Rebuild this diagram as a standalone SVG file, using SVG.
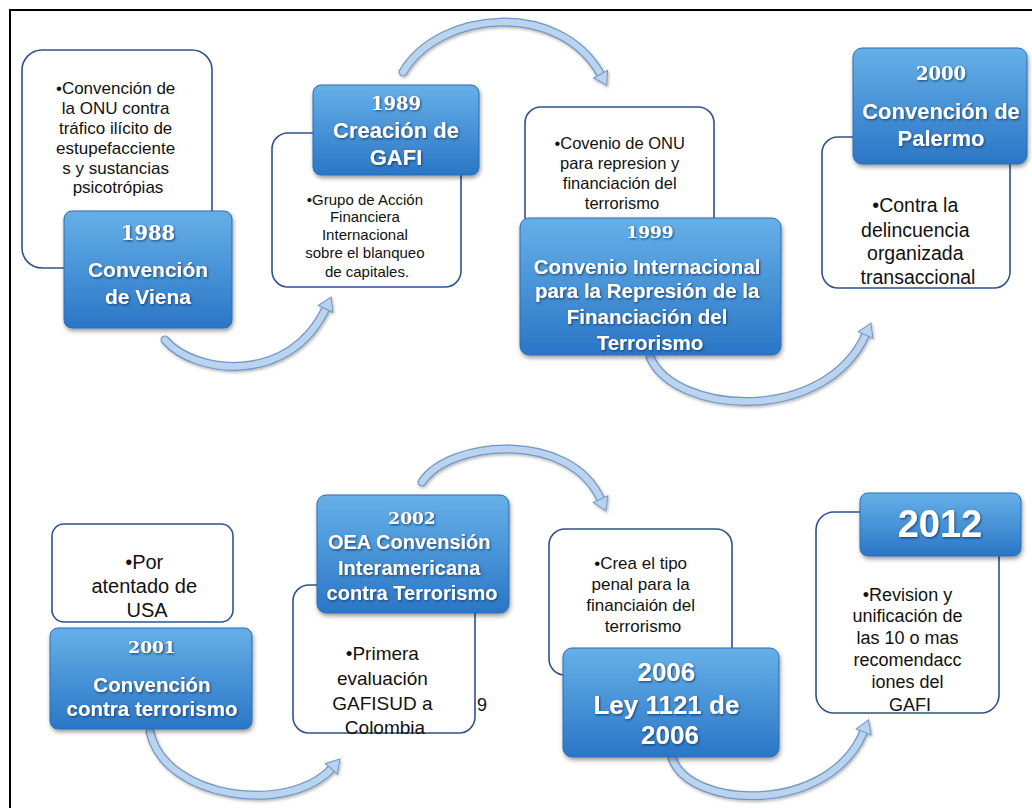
<svg xmlns="http://www.w3.org/2000/svg" width="1032" height="808" viewBox="0 0 1032 808">
<defs>
<linearGradient id="gBlue" x1="0" y1="0" x2="0" y2="1">
<stop offset="0" stop-color="#66b0e8"/>
<stop offset="1" stop-color="#2a76c6"/>
</linearGradient>
<filter id="boxShadow" x="-10%" y="-10%" width="125%" height="130%">
<feDropShadow dx="1" dy="2.5" stdDeviation="2" flood-color="#000" flood-opacity="0.4"/>
</filter>
<filter id="txtShadow" x="-10%" y="-20%" width="120%" height="150%">
<feDropShadow dx="1" dy="1.2" stdDeviation="0.8" flood-color="#123a66" flood-opacity="0.9"/>
</filter>
<filter id="arrowShadow" x="-10%" y="-10%" width="125%" height="130%">
<feDropShadow dx="1" dy="1.5" stdDeviation="1.5" flood-color="#000" flood-opacity="0.3"/>
</filter>
<marker id="head" markerUnits="userSpaceOnUse" markerWidth="20" markerHeight="20" refX="1" refY="8" orient="auto" overflow="visible">
<path d="M0,0 L13,8 L0,16 Z" fill="#b9d2ef" stroke="#7396c2" stroke-width="1"/>
</marker>
<style>
.wbox{fill:#ffffff;stroke:#2f528f;stroke-width:1.6}
.bbox{fill:url(#gBlue);stroke:#2d6db5;stroke-width:1;filter:url(#boxShadow)}
.wt{font-family:"Liberation Sans",Arial,sans-serif;fill:#111;text-anchor:middle}
.bt{font-family:"Liberation Sans",Arial,sans-serif;font-weight:bold;fill:#fff;text-anchor:middle;filter:url(#txtShadow)}
.yr{font-family:"DejaVu Serif","Liberation Serif",serif;font-weight:bold;fill:#fff;text-anchor:middle;filter:url(#txtShadow)}
.aOut{fill:none;stroke:#7396c2;stroke-width:9;stroke-linecap:round}
.aIn{fill:none;stroke:#bad3ef;stroke-width:6.5;stroke-linecap:round}
</style>
</defs>
<rect x="0" y="0" width="1032" height="808" fill="#ffffff"/>
<rect x="10" y="10" width="1040" height="820" fill="none" stroke="#000" stroke-width="2"/>

<g id="connectors" filter="url(#arrowShadow)">
<path class="aOut" d="M165,340 C195,375 290,385 326,308"/>
<path class="aIn" d="M165,340 C195,375 290,385 326,308" marker-end="url(#head)"/>
<path class="aOut" d="M403,72 C440,10 560,0 601,75"/>
<path class="aIn" d="M403,72 C440,10 560,0 601,75" marker-end="url(#head)"/>
<path class="aOut" d="M650,357 C675,415 825,425 866,334"/>
<path class="aIn" d="M650,357 C675,415 825,425 866,334" marker-end="url(#head)"/>
<path class="aOut" d="M150,732 C165,800 290,815 332,768"/>
<path class="aIn" d="M150,732 C165,800 290,815 332,768" marker-end="url(#head)"/>
<path class="aOut" d="M422,482 C450,440 570,430 601,500"/>
<path class="aIn" d="M422,482 C450,440 570,430 601,500" marker-end="url(#head)"/>
<path class="aOut" d="M672,758 C690,810 830,815 864,731"/>
<path class="aIn" d="M672,758 C690,810 830,815 864,731" marker-end="url(#head)"/>
</g>

<g id="n1988">
<rect class="wbox" x="22" y="50" width="190" height="218" rx="20"/>
<text class="wt" font-size="17">
<tspan x="118" y="94">•Convención de</tspan>
<tspan x="118" y="114">la ONU contra</tspan>
<tspan x="118" y="134">tráfico ilícito de</tspan>
<tspan x="118" y="154">estupefacciente</tspan>
<tspan x="118" y="174">s y sustancias</tspan>
<tspan x="118" y="193">psicotrópias</tspan>
</text>
<rect class="bbox" x="64" y="211" width="168" height="117" rx="8"/>
<text class="yr" x="148" y="240" font-size="19.5">1988</text>
<text class="bt" font-size="21"><tspan x="148" y="277">Convención</tspan><tspan x="148" y="304">de Viena</tspan></text>
</g>

<g id="n1989">
<rect class="wbox" x="272" y="133" width="189" height="154" rx="16"/>
<text class="wt" font-size="15">
<tspan x="367" y="205">•Grupo de Acción</tspan>
<tspan x="367" y="222">Financiera</tspan>
<tspan x="367" y="240">Internacional</tspan>
<tspan x="367" y="258">sobre el blanqueo</tspan>
<tspan x="367" y="277">de capitales.</tspan>
</text>
<rect class="bbox" x="313" y="85" width="166" height="90" rx="8"/>
<text class="yr" x="396" y="110" font-size="18">1989</text>
<text class="bt" font-size="22"><tspan x="396" y="138">Creación de</tspan><tspan x="396" y="165">GAFI</tspan></text>
</g>

<g id="n1999">
<rect class="wbox" x="525" y="107" width="189" height="125" rx="16"/>
<text class="wt" font-size="16.5">
<tspan x="622" y="149">•Covenio de ONU</tspan>
<tspan x="622" y="169">para represion y</tspan>
<tspan x="622" y="189">financiación del</tspan>
<tspan x="622" y="209">terrorismo</tspan>
</text>
<rect class="bbox" x="520" y="218" width="261" height="137" rx="9"/>
<text class="yr" x="650" y="238" font-size="17">1999</text>
<text class="bt" font-size="20.5">
<tspan x="650" y="274">Convenio Internacional</tspan>
<tspan x="650" y="298">para la Represión de la</tspan>
<tspan x="650" y="324">Financiación del</tspan>
<tspan x="650" y="350">Terrorismo</tspan>
</text>
</g>

<g id="n2000">
<rect class="wbox" x="822" y="137" width="188" height="151" rx="16"/>
<text class="wt" font-size="19.5">
<tspan x="918" y="212">•Contra la</tspan>
<tspan x="918" y="237">delincuencia</tspan>
<tspan x="918" y="260">organizada</tspan>
<tspan x="918" y="284">transaccional</tspan>
</text>
<rect class="bbox" x="853" y="48" width="174" height="116" rx="9"/>
<text class="yr" x="941" y="80" font-size="18">2000</text>
<text class="bt" font-size="22"><tspan x="941" y="119">Convención de</tspan><tspan x="941" y="146">Palermo</tspan></text>
</g>

<g id="n2001">
<rect class="wbox" x="52" y="524" width="181" height="98" rx="12"/>
<text class="wt" font-size="20">
<tspan x="147" y="569">•Por</tspan>
<tspan x="147" y="593">atentado de</tspan>
<tspan x="147" y="617">USA</tspan>
</text>
<rect class="bbox" x="50" y="628" width="202" height="101" rx="8"/>
<text class="yr" x="152" y="653" font-size="17">2001</text>
<text class="bt" font-size="20.5"><tspan x="152" y="692">Convención</tspan><tspan x="152" y="716">contra terrorismo</tspan></text>
</g>

<g id="n2002">
<rect class="wbox" x="293" y="585" width="182" height="148" rx="16"/>
<text class="wt" font-size="19">
<tspan x="385" y="660">•Primera</tspan>
<tspan x="385" y="685">evaluación</tspan>
<tspan x="385" y="710">GAFISUD a</tspan>
<tspan x="385" y="734">Colombia</tspan>
</text>
<text class="wt" x="482" y="711" font-size="18">9</text>
<rect class="bbox" x="317" y="495" width="192" height="118" rx="9"/>
<text class="yr" x="412" y="524" font-size="17">2002</text>
<text class="bt" font-size="20">
<tspan x="412" y="549">OEA Convensión</tspan>
<tspan x="412" y="575">Interamericana</tspan>
<tspan x="412" y="600">contra Terrorismo</tspan>
</text>
</g>

<g id="n2006">
<rect class="wbox" x="549" y="529" width="183" height="146" rx="16"/>
<text class="wt" font-size="17">
<tspan x="643" y="569">•Crea el tipo</tspan>
<tspan x="643" y="590">penal para la</tspan>
<tspan x="643" y="611">financiaión del</tspan>
<tspan x="643" y="632">terrorismo</tspan>
</text>
<rect class="bbox" x="563" y="648" width="216" height="109" rx="9"/>
<text class="bt" font-size="26">
<tspan x="670" y="681">2006</tspan>
<tspan x="670" y="714">Ley 1121 de</tspan>
<tspan x="670" y="744">2006</tspan>
</text>
</g>

<g id="n2012">
<rect class="wbox" x="816" y="512" width="183" height="201" rx="18"/>
<text class="wt" font-size="18">
<tspan x="910" y="601">•Revision y</tspan>
<tspan x="910" y="622">unificación de</tspan>
<tspan x="910" y="644">las 10 o mas</tspan>
<tspan x="910" y="666">recomendacc</tspan>
<tspan x="910" y="688">iones del</tspan>
<tspan x="910" y="711">GAFI</tspan>
</text>
<rect class="bbox" x="860" y="493" width="161" height="63" rx="8"/>
<text class="bt" x="940" y="537" font-size="38">2012</text>
</g>
</svg>
